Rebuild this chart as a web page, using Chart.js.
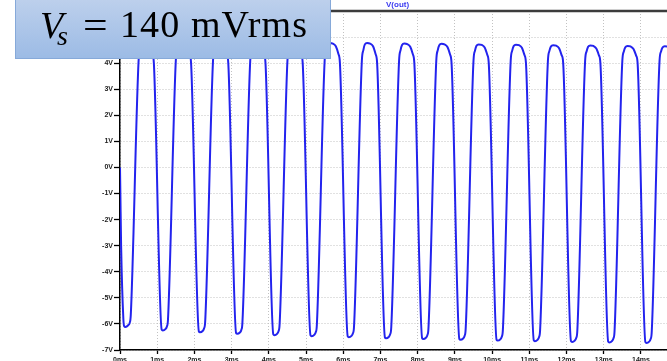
<!DOCTYPE html>
<html>
<head>
<meta charset="utf-8">
<script src="https://cdn.jsdelivr.net/npm/chart.js@4/dist/chart.umd.min.js"></script>
<style>
  html, body { margin: 0; padding: 0; background: #fff; overflow: hidden; }
  #wrap { position: relative; width: 667px; height: 361px; }
  canvas { position: absolute; left: 0; top: 0; }
  #trace { position: absolute; left: 386px; top: 0px; font: bold 8px 'Liberation Sans', Arial, sans-serif; line-height: 9px; color: #3a3af0; }
  #box { position: absolute; left: 15px; top: -2px; width: 314px; height: 59px;
         background: linear-gradient(#bdd0ec, #9cbbe5); border: 1px solid #86a9d9; }
  #box span { position: absolute; font-family: 'Liberation Serif', 'DejaVu Serif', serif; color: #000; line-height: 1; white-space: nowrap; }
</style>
</head>
<body>
<div id="wrap">
  <canvas id="c" width="667" height="361"></canvas>
  <div id="trace">V(out)</div>
  <div id="box">
    <span style="left:24px; top:7px; font-size:38px; font-style:italic;">V</span>
    <span style="left:41px; top:23px; font-size:28px; font-style:italic;">s</span>
    <span style="left:67px; top:7px; font-size:38px; transform:scaleX(1.15); transform-origin:left;">=</span>
    <span style="left:104px; top:6px; font-size:38px; letter-spacing:1.1px;">140 mVrms</span>
  </div>
</div>
<script>
// time axis (ms) and output voltage (V)
const timeMs = [
  0, 0.01, 0.03, 0.09, 0.11, 0.15, 0.22, 0.26, 0.29, 0.50, 0.54, 0.58, 0.64, 0.72, 0.80, 0.87, 0.91,
  1.12, 1.15, 1.22, 1.26, 1.29, 1.50, 1.54, 1.58, 1.64, 1.72, 1.80, 1.87, 1.91,
  2.12, 2.15, 2.22, 2.26, 2.29, 2.50, 2.54, 2.58, 2.64, 2.72, 2.80, 2.87, 2.91,
  3.12, 3.15, 3.22, 3.26, 3.29, 3.50, 3.54, 3.58, 3.64, 3.72, 3.80, 3.87, 3.91,
  4.12, 4.15, 4.22, 4.26, 4.29, 4.50, 4.54, 4.58, 4.64, 4.72, 4.80, 4.87, 4.91,
  5.12, 5.15, 5.22, 5.26, 5.29, 5.50, 5.54, 5.58, 5.64, 5.72, 5.80, 5.87, 5.91,
  6.12, 6.15, 6.22, 6.26, 6.29, 6.50, 6.54, 6.58, 6.64, 6.72, 6.80, 6.87, 6.91,
  7.12, 7.15, 7.22, 7.26, 7.29, 7.50, 7.54, 7.58, 7.64, 7.72, 7.80, 7.87, 7.91,
  8.12, 8.15, 8.22, 8.26, 8.29, 8.50, 8.54, 8.58, 8.64, 8.72, 8.80, 8.87, 8.91,
  9.12, 9.15, 9.22, 9.26, 9.29, 9.50, 9.54, 9.58, 9.64, 9.72, 9.80, 9.87, 9.91,
  10.12, 10.15, 10.22, 10.26, 10.29, 10.50, 10.54, 10.58, 10.64, 10.72, 10.80, 10.87, 10.91,
  11.12, 11.15, 11.22, 11.26, 11.29, 11.50, 11.54, 11.58, 11.64, 11.72, 11.80, 11.87, 11.91,
  12.12, 12.15, 12.22, 12.26, 12.29, 12.50, 12.54, 12.58, 12.64, 12.72, 12.80, 12.87, 12.91,
  13.12, 13.15, 13.22, 13.26, 13.29, 13.50, 13.54, 13.58, 13.64, 13.72, 13.80, 13.87, 13.91,
  14.12, 14.15, 14.22, 14.26, 14.29, 14.50, 14.54, 14.58, 14.64, 14.72, 14.80
];
const vOut = [
  0, -1.0, -3.0, -5.8, -6.08, -6.12, -6.05, -5.96, -5.65, 4.1, 4.5, 4.75, 4.80, 4.78, 4.68, 4.35, 4.0,
  -6.22, -6.25, -6.20, -6.10, -5.82, 4.1, 4.5, 4.74, 4.79, 4.77, 4.67, 4.35, 4.0,
  -6.29, -6.32, -6.27, -6.17, -5.89, 4.1, 4.5, 4.74, 4.79, 4.77, 4.67, 4.35, 4.0,
  -6.35, -6.38, -6.33, -6.23, -5.95, 4.1, 4.5, 4.73, 4.78, 4.76, 4.66, 4.35, 4.0,
  -6.40, -6.43, -6.38, -6.28, -6.00, 4.1, 4.5, 4.73, 4.78, 4.76, 4.66, 4.35, 4.0,
  -6.44, -6.47, -6.42, -6.32, -6.04, 4.1, 4.5, 4.72, 4.77, 4.75, 4.65, 4.35, 4.0,
  -6.48, -6.51, -6.46, -6.36, -6.08, 4.1, 4.5, 4.72, 4.77, 4.75, 4.65, 4.34, 4.0,
  -6.52, -6.55, -6.50, -6.40, -6.12, 4.1, 4.5, 4.70, 4.75, 4.73, 4.63, 4.34, 4.0,
  -6.55, -6.58, -6.53, -6.43, -6.15, 4.1, 4.5, 4.69, 4.74, 4.72, 4.62, 4.33, 4.0,
  -6.58, -6.61, -6.56, -6.46, -6.18, 4.1, 4.48, 4.67, 4.72, 4.70, 4.60, 4.32, 4.0,
  -6.61, -6.64, -6.59, -6.49, -6.21, 4.1, 4.48, 4.66, 4.71, 4.69, 4.59, 4.31, 4.0,
  -6.63, -6.66, -6.61, -6.51, -6.23, 4.1, 4.47, 4.64, 4.69, 4.67, 4.57, 4.30, 4.0,
  -6.66, -6.69, -6.64, -6.54, -6.26, 4.1, 4.46, 4.63, 4.68, 4.66, 4.56, 4.30, 4.0,
  -6.68, -6.71, -6.66, -6.56, -6.28, 4.1, 4.45, 4.61, 4.66, 4.64, 4.54, 4.29, 4.0,
  -6.70, -6.73, -6.68, -6.58, -6.30, 4.1, 4.45, 4.60, 4.65, 4.63, 4.53
];
const xTicks = [0, 1, 2, 3, 4, 5, 6, 7, 8, 9, 10, 11, 12, 13, 14];
const yTicks = [-7, -6, -5, -4, -3, -2, -1, 0, 1, 2, 3, 4, 5, 6];
const xUnit = 'ms';
const yUnit = 'V';

const points = timeMs.map((t, i) => ({ x: t, y: vOut[i] }));

const topFrame = {
  id: 'topFrame',
  afterDraw(chart) {
    const { ctx, chartArea } = chart;
    ctx.save();
    ctx.strokeStyle = '#3c3c3c';
    ctx.lineWidth = 2.5;
    ctx.beginPath();
    ctx.moveTo(chartArea.left, chartArea.top);
    ctx.lineTo(chartArea.right, chartArea.top);
    ctx.stroke();
    ctx.restore();
  }
};

const tickFont = { family: "'Liberation Sans', Arial, sans-serif", size: 7, weight: 'bold' };

new Chart(document.getElementById('c'), {
  type: 'line',
  data: {
    datasets: [{
      data: points,
      borderColor: '#2323ee',
      borderWidth: 2,
      pointRadius: 0,
      cubicInterpolationMode: 'monotone',
      fill: false
    }]
  },
  options: {
    responsive: false,
    devicePixelRatio: 1,
    animation: false,
    events: [],
    layout: { padding: { top: 11, right: 0, left: 0, bottom: 0 } },
    plugins: { legend: { display: false }, title: { display: false }, tooltip: { enabled: false } },
    scales: {
      x: {
        type: 'linear',
        min: 0,
        max: 14.70,
        afterBuildTicks: (s) => { s.ticks = xTicks.map(v => ({ value: v })); },
        afterFit: (s) => { s.height = 11; },
        ticks: {
          includeBounds: false,
          autoSkip: false,
          maxRotation: 0,
          padding: 2,
          color: '#222',
          font: tickFont,
          callback: (v) => v + xUnit
        },
        grid: {
          color: '#c2c2c2',
          lineWidth: 1,
          tickLength: 4,
          tickColor: '#000',
          tickWidth: 1.3,
          tickBorderDash: []
        },
        border: { display: true, color: '#000', width: 1.5, dash: [1, 2] }
      },
      y: {
        type: 'linear',
        min: -7,
        max: 6,
        afterBuildTicks: (s) => { s.ticks = yTicks.map(v => ({ value: v })); },
        afterFit: (s) => { s.width = 120; },
        ticks: {
          includeBounds: false,
          autoSkip: false,
          padding: 1,
          color: '#222',
          font: tickFont,
          callback: (v) => v + yUnit
        },
        grid: {
          color: '#c2c2c2',
          lineWidth: 1,
          tickLength: 6,
          tickColor: '#000',
          tickWidth: 1.3,
          tickBorderDash: []
        },
        border: { display: true, color: '#000', width: 1.5, dash: [1, 2] }
      }
    }
  },
  plugins: [topFrame]
});
</script>
</body>
</html>
